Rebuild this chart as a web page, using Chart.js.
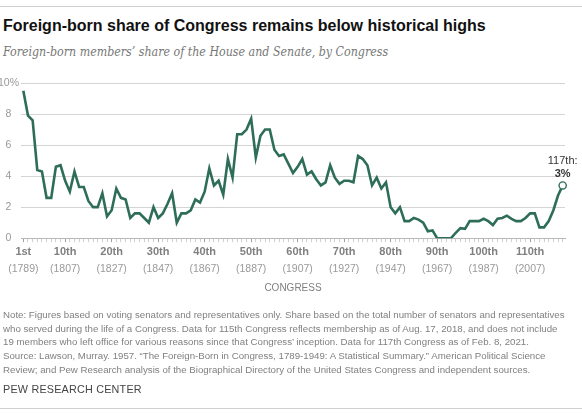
<!DOCTYPE html>
<html>
<head>
<meta charset="utf-8">
<script src="https://cdn.jsdelivr.net/npm/chart.js@4.4.0/dist/chart.umd.min.js"></script>
<style>
  body { margin: 0; width: 582px; height: 414px; position: relative; background: #fff; overflow: hidden;
         font-family: "Liberation Sans", Arial, sans-serif; }
  .rule { position: absolute; left: 0; width: 582px; height: 1px; background: #d0d0d0; }
  #title { position: absolute; left: 3px; top: 17px; font-weight: bold; font-size: 16px; color: #111; white-space: nowrap; }
  #sub { position: absolute; left: 3px; top: 45px; font-family: "DejaVu Serif Condensed", "DejaVu Serif", Georgia, serif;
         font-style: italic; font-size: 12.3px; color: #777; white-space: nowrap; }
  #note { position: absolute; left: 3px; top: 308px; font-size: 9.7px; line-height: 13.7px; color: #808080; white-space: nowrap; }
  #pew { position: absolute; left: 3px; top: 383px; font-size: 10.8px; color: #444; letter-spacing: 0.2px; }
  #wrap { position: absolute; left: 0; top: 0; width: 582px; height: 414px; }
</style>
</head>
<body>
<div class="rule" style="top:6px"></div>
<div id="title">Foreign-born share of Congress remains below historical highs</div>
<div id="sub">Foreign-born members’ share of the House and Senate, by Congress</div>
<div id="wrap"><canvas id="chart"></canvas></div>
<div id="note">Note: Figures based on voting senators and representatives only. Share based on the total number of senators and representatives<br>who served during the life of a Congress. Data for 115th Congress reflects membership as of Aug. 17, 2018, and does not include<br>19 members who left office for various reasons since that Congress’ inception. Data for 117th Congress as of Feb. 8, 2021.<br>Source: Lawson, Murray. 1957. “The Foreign-Born in Congress, 1789-1949: A Statistical Summary.” American Political Science<br>Review; and Pew Research analysis of the Biographical Directory of the United States Congress and independent sources.</div>
<div id="pew">PEW RESEARCH CENTER</div>
<div class="rule" style="top:408px"></div>
<script>
// share of foreign-born members (%), 1st .. 117th Congress
const shares = [
  9.5, 7.9, 7.6, 4.4, 4.3, 2.6, 2.6, 4.6, 4.7, 3.7,
  3.0, 4.3, 3.3, 3.3, 2.4, 2.0, 2.0, 2.9, 1.4, 1.8,
  3.2, 2.6, 2.5, 1.3, 1.6, 1.6, 1.3, 1.0, 2.0, 1.3,
  1.6, 2.2, 2.9, 1.0, 1.6, 1.6, 1.8, 2.5, 2.3, 3.0,
  4.5, 3.4, 3.7, 2.8, 5.1, 3.9, 6.7, 6.7, 7.0, 7.7,
  5.2, 6.6, 7.0, 7.0, 5.7, 5.3, 5.4, 4.8, 4.2, 4.6,
  5.1, 4.1, 4.3, 3.8, 3.4, 3.6, 4.7, 3.9, 3.5, 3.7,
  3.7, 3.6, 5.3, 5.1, 4.7, 3.4, 3.9, 3.2, 3.6, 2.0,
  1.6, 2.0, 1.1, 1.1, 1.3, 1.2, 1.0, 0.45, 0.5, 0,
  0, 0, 0, 0.35, 0.65, 0.6, 1.1, 1.1, 1.1, 1.25,
  1.1, 0.85, 1.25, 1.3, 1.45, 1.25, 1.1, 1.1, 1.3, 1.6,
  1.6, 0.7, 0.7, 1.1, 1.8, 2.75, 3.4,
];
const congresses = shares.map((_, i) => i + 1);

const tickCongress = [1, 10, 20, 30, 40, 50, 60, 70, 80, 90, 100, 110];
const tickOrdinal = ["1st", "10th", "20th", "30th", "40th", "50th", "60th", "70th", "80th", "90th", "100th", "110th"];
const tickYear = ["(1789)", "(1807)", "(1827)", "(1847)", "(1867)", "(1887)", "(1907)", "(1927)", "(1947)", "(1967)", "(1987)", "(2007)"];
const endNote = ["117th:", "3%"];

const GREEN = "#2e6e58";
const FONT = "'Liberation Sans', Arial, sans-serif";

// light guides at every 1%, placed from the y scale's ticks
const guides = {
  id: "guides",
  beforeDatasetsDraw(chart) {
    const { ctx, chartArea, scales } = chart;
    ctx.save();
    ctx.fillStyle = "#d4d4d4";
    scales.y.ticks.forEach((t) => {
      if (t.value === 0) return;
      const y = Math.round(scales.y.getPixelForValue(t.value));
      ctx.fillRect(chartArea.left, y, chartArea.right - chartArea.left, 1);
    });
    ctx.restore();
  },
};

const endLabel = {
  id: "endLabel",
  afterDatasetsDraw(chart) {
    const meta = chart.getDatasetMeta(0);
    const pt = meta.data[meta.data.length - 1];
    const c = chart.ctx;
    c.save();
    c.textAlign = "center";
    c.textBaseline = "middle";
    c.fillStyle = "#333";
    c.font = "11px " + FONT;
    c.fillText(endNote[0], pt.x, pt.y - 24);
    c.font = "bold 11px " + FONT;
    c.fillText(endNote[1], pt.x, pt.y - 11);
    c.restore();
  },
};

const isMajor = (i) => tickCongress.includes(congresses[i]);
const last = shares.length - 1;

new Chart(document.getElementById("chart").getContext("2d"), {
  type: "line",
  data: {
    labels: congresses,
    datasets: [
      {
        data: shares,
        borderColor: GREEN,
        borderWidth: 2.6,
        tension: 0,
        pointRadius: (c) => (c.dataIndex === last ? 3.6 : 0),
        pointBackgroundColor: "#fff",
        pointBorderColor: GREEN,
        pointBorderWidth: 1.4,
      },
    ],
  },
  options: {
    responsive: true,
    maintainAspectRatio: false,
    animation: false,
    layout: { padding: { top: 83, right: 17, bottom: 120, left: 0 } },
    plugins: { legend: { display: false }, tooltip: { enabled: false } },
    scales: {
      x: {
        type: "category",
        offset: true,
        grid: {
          offset: false,
          drawOnChartArea: false,
          drawTicks: true,
          tickLength: 4,
          color: (c) => (c.tick && isMajor(c.index) ? "#a0a0a0" : "#d0d0d0"),
        },
        border: { display: true, color: "#b8b8b8" },
        ticks: {
          autoSkip: false,
          maxRotation: 0,
          padding: 3,
          color: "#808080",
          font: { family: FONT, size: 11, weight: "bold" },
          callback: (v, i) => {
            const k = tickCongress.indexOf(congresses[i]);
            return k >= 0 ? tickOrdinal[k] : "";
          },
        },
      },
      x2: {
        type: "category",
        position: "bottom",
        offset: true,
        grid: { display: false, drawTicks: false },
        border: { display: false },
        ticks: {
          autoSkip: false,
          maxRotation: 0,
          padding: 1,
          color: "#9a9a9a",
          font: { family: FONT, size: 10.5 },
          callback: (v, i) => {
            const k = tickCongress.indexOf(congresses[i]);
            return k >= 0 ? tickYear[k] : "";
          },
        },
        title: {
          display: true,
          text: "CONGRESS",
          color: "#808080",
          font: { family: FONT, size: 10 },
          padding: { top: 6, bottom: 0 },
        },
      },
      y: {
        min: 0,
        max: 10,
        afterFit: (s) => { s.width = 21; },
        grid: { display: false, drawTicks: false },
        border: { display: false },
        ticks: {
          stepSize: 1,
          padding: 2,
          crossAlign: "center",
          color: "#999",
          font: { family: FONT, size: 10.5 },
          callback: (v) => (v % 2 ? "" : v === 10 ? "10%" : v),
        },
      },
    },
  },
  plugins: [guides, endLabel],
});
</script>
</body>
</html>
